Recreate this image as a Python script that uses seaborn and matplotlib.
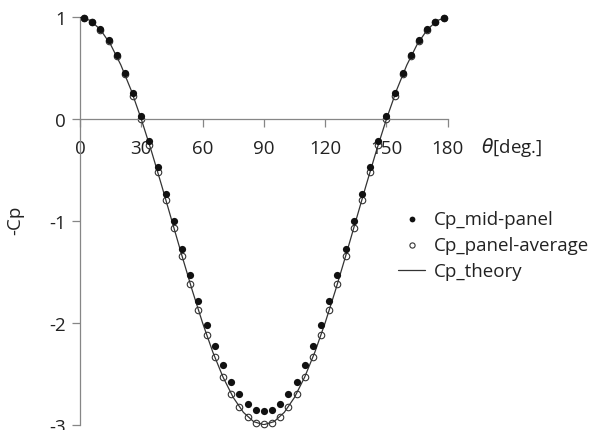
import matplotlib
matplotlib.use("Agg")
import matplotlib.pyplot as plt
import seaborn as sns
import pandas as pd

# panel mid angles (deg)
theta_pts = [2, 6, 10, 14, 18, 22, 26, 30, 34, 38, 42, 46, 50, 54, 58, 62, 66, 70, 74, 78, 82, 86,
             90, 94, 98, 102, 106, 110, 114, 118, 122, 126, 130, 134, 138, 142, 146, 150, 154, 158,
             162, 166, 170, 174, 178]
cp_mid_half = [0.995, 0.958, 0.883, 0.773, 0.630, 0.457, 0.256, 0.033, -0.210, -0.467, -0.733,
               -1.003, -1.271, -1.533, -1.783, -2.017, -2.230, -2.417, -2.576, -2.703, -2.795, -2.851]
cp_mid_center = [-2.870]
cp_avg_half = [0.995, 0.956, 0.879, 0.766, 0.618, 0.439, 0.231, 0.000, -0.251, -0.516, -0.791,
               -1.070, -1.347, -1.618, -1.877, -2.118, -2.338, -2.532, -2.696, -2.827, -2.923, -2.981]
cp_avg_center = [-2.998]
cp_mid = cp_mid_half + cp_mid_center + cp_mid_half[::-1]
cp_avg = cp_avg_half + cp_avg_center + cp_avg_half[::-1]

theta_th = [0, 5, 10, 15, 20, 25, 30, 35, 40, 45, 50, 55, 60, 65, 70, 75, 80, 85, 90,
            95, 100, 105, 110, 115, 120, 125, 130, 135, 140, 145, 150, 155, 160, 165, 170, 175, 180]
cp_th_half = [1.000, 0.970, 0.879, 0.732, 0.532, 0.286, 0.000, -0.316, -0.653, -1.000, -1.347,
              -1.684, -2.000, -2.286, -2.532, -2.732, -2.879, -2.970]
cp_th = cp_th_half + [-3.000] + cp_th_half[::-1]

x_ticks = [0, 30, 60, 90, 120, 150, 180]
y_ticks = [-3, -2, -1, 0, 1]

sns.set_style("white")
plt.rcParams['font.family'] = ['Open Sans', 'DejaVu Sans']
FS = 13.5

fig = plt.figure(figsize=(5.94, 4.31), dpi=100)
ax = fig.add_axes([80 / 594, 1 - 425.7 / 431, (447.7 - 80) / 594, (425.7 - 18.3) / 431])

df_th = pd.DataFrame({"theta": theta_th, "cp": cp_th})
df_pts = pd.DataFrame({"theta": theta_pts, "mid": cp_mid, "avg": cp_avg})

sns.lineplot(data=df_th, x="theta", y="cp", ax=ax, color="#333333", linewidth=0.9,
             label="Cp_theory", zorder=3)
ax.scatter(df_pts["theta"], df_pts["avg"], s=22, facecolors="white", edgecolors="#333333",
           linewidths=0.8, zorder=2, clip_on=False, label="Cp_panel-average")
sns.scatterplot(data=df_pts, x="theta", y="mid", ax=ax, s=27, color="#111111", edgecolor="#111111",
                linewidth=0, zorder=4, clip_on=False, label="Cp_mid-panel")

ax.set_xlim(0, 180)
ax.set_ylim(-3, 1)
ax.spines["left"].set_position(("data", 0))
ax.spines["bottom"].set_position(("data", 0))
for s in ["top", "right"]:
    ax.spines[s].set_visible(False)
for s in ["left", "bottom"]:
    ax.spines[s].set_color("#868686")
    ax.spines[s].set_linewidth(0.9)
ax.set_xticks(x_ticks)
ax.set_yticks(y_ticks)
ax.set_xticklabels([str(v) for v in x_ticks], fontsize=FS, color="#222222")
ax.set_yticklabels([str(v) for v in y_ticks], fontsize=FS, color="#222222")
ax.tick_params(axis="x", direction="out", length=6, width=0.9, color="#868686",
               bottom=True, pad=8)
ax.tick_params(axis="y", direction="out", length=6, width=0.9, color="#868686",
               left=True, pad=4)
ax.set_xlabel("")
ax.set_ylabel("")
fig.text(15 / 594, 1 - 220 / 431, "-Cp", rotation=90, ha="center", va="center",
         fontsize=FS, color="#222222")
ax.text(1.09, 0.682, r"$\theta$[deg.]", transform=ax.transAxes, ha="left", va="center",
        fontsize=FS, color="#222222")

handles, labels = ax.get_legend_handles_labels()
order = {"Cp_mid-panel": 0, "Cp_panel-average": 1, "Cp_theory": 2}
pairs = sorted(zip(handles, labels), key=lambda p: order[p[1]])
leg = ax.legend([p[0] for p in pairs], [p[1] for p in pairs], loc="center left",
                bbox_to_anchor=(0.82, 0.441), frameon=False, fontsize=FS,
                handlelength=1.4, handletextpad=0.5, labelspacing=0.45, markerscale=0.8)
for t in leg.get_texts():
    t.set_color("#222222")

fig.savefig("out.png", dpi=100)
